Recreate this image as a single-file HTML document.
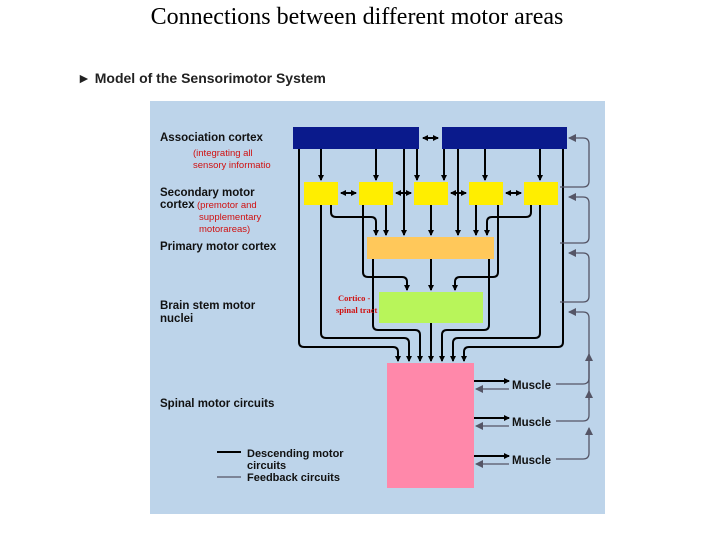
<!DOCTYPE html>
<html><head><meta charset="utf-8"><style>
body{margin:0;width:720px;height:540px;background:#fff;overflow:hidden;position:relative}
svg{position:absolute;left:0;top:0}
</style></head><body>
<svg width="720" height="540" viewBox="0 0 720 540" font-family="Liberation Sans, sans-serif">
<defs>
<marker id="a" markerWidth="6" markerHeight="6" refX="5" refY="3" orient="auto" markerUnits="userSpaceOnUse"><path d="M0,0L6,3L0,6z" fill="#000"/></marker>
<marker id="g" markerWidth="8" markerHeight="8" refX="7" refY="4" orient="auto" markerUnits="userSpaceOnUse"><path d="M0,0L8,4L0,8z" fill="#556"/></marker>
<marker id="s" markerWidth="6" markerHeight="6" refX="1" refY="3" orient="auto" markerUnits="userSpaceOnUse"><path d="M6,0L0,3L6,6z" fill="#000"/></marker>
</defs>
<text x="357" y="24" text-anchor="middle" font-family="Liberation Serif, serif" font-size="24">Connections between different motor areas</text>
<text x="77" y="83" font-size="14" font-weight="bold" fill="#222">► Model of the Sensorimotor System</text>
<rect x="150" y="101" width="455" height="413" fill="#bdd4ea"/>
<rect x="293" y="127" width="126" height="22" fill="#0a1a8c"/>
<rect x="442" y="127" width="125" height="22" fill="#0a1a8c"/>
<g fill="#ffee00"><rect x="304" y="182" width="34" height="23"/><rect x="359" y="182" width="34" height="23"/><rect x="414" y="182" width="34" height="23"/><rect x="469" y="182" width="34" height="23"/><rect x="524" y="182" width="34" height="23"/></g>
<rect x="367" y="237" width="127" height="22" fill="#ffc85a"/>
<rect x="379" y="292" width="104" height="31" fill="#b8f55a"/>
<rect x="387" y="363" width="87" height="125" fill="#ff88aa"/>
<g stroke="#000" stroke-width="2" fill="none" marker-end="url(#a)">
<path d="M321,149V180"/><path d="M376,149V180"/><path d="M417,149V180"/><path d="M404,149V235"/>
<path d="M444,149V180"/><path d="M458,149V235"/><path d="M485,149V180"/><path d="M540,149V180"/>
<path d="M331,205V212q0,5 5,5H371q5,0 5,5V235"/><path d="M386,205V235"/><path d="M431,205V235"/><path d="M476,205V235"/><path d="M531,205V212q0,5 -5,5H492q-5,0 -5,5V235"/>
<path d="M363,205V272q0,5 5,5H402q5,0 5,5V290"/><path d="M431,259V290"/><path d="M498,205V272q0,5 -5,5H460q-5,0 -5,5V290"/>
<path d="M299,149V342q0,5 5,5H393q5,0 5,5V361"/>
<path d="M321,205V333q0,5 5,5H404q5,0 5,5V361"/>
<path d="M373,259V325q0,5 5,5H415q5,0 5,5V361"/>
<path d="M431,323V361"/>
<path d="M489,259V325q0,5 -5,5H447q-5,0 -5,5V361"/>
<path d="M540,205V333q0,5 -5,5H458q-5,0 -5,5V361"/>
<path d="M563,149V342q0,5 -5,5H469q-5,0 -5,5V361"/>
<path d="M474,381H509"/><path d="M474,418H509"/><path d="M474,456H509"/>
</g>
<g stroke="#000" stroke-width="2" marker-start="url(#s)" marker-end="url(#a)">
<path d="M423,138H438"/><path d="M341,193H356"/><path d="M396,193H411"/><path d="M451,193H466"/><path d="M506,193H521"/>
</g>
<g stroke="#556" stroke-width="1.3" fill="none" marker-end="url(#g)">
<path d="M560,187H583q6,0 6,-6V144q0,-6 -6,-6H569"/>
<path d="M560,243H583q6,0 6,-6V203q0,-6 -6,-6H569"/>
<path d="M560,302H583q6,0 6,-6V259q0,-6 -6,-6H569"/>
<path d="M589,400V318q0,-6 -6,-6H569"/>
<path d="M556,384H583q6,0 6,-6V354"/>
<path d="M556,421H583q6,0 6,-6V391"/>
<path d="M556,459H583q6,0 6,-6V428"/>
<path d="M509,389H476"/><path d="M509,426H476"/><path d="M509,464H476"/>
</g>
<g font-weight="bold" font-size="11.5" fill="#111">
<text x="160" y="141">Association cortex</text>
<text x="160" y="196">Secondary motor</text><text x="160" y="208">cortex</text>
<text x="160" y="250">Primary motor cortex</text>
<text x="160" y="309">Brain stem motor</text><text x="160" y="322">nuclei</text>
<text x="160" y="407">Spinal motor circuits</text>
<text x="512" y="389">Muscle</text><text x="512" y="426">Muscle</text><text x="512" y="464">Muscle</text>
<text x="247" y="457" font-size="11">Descending motor</text><text x="247" y="469" font-size="11">circuits</text>
<text x="247" y="481" font-size="11">Feedback circuits</text>
</g>
<path d="M217,452H241" stroke="#000" stroke-width="2"/>
<path d="M217,477H241" stroke="#556" stroke-width="1.3"/>
<g fill="#d01010" font-size="9.5">
<text x="193" y="156">(integrating all</text><text x="193" y="168">sensory informatio</text>
<text x="197" y="208">(premotor and</text><text x="199" y="220">supplementary</text><text x="199" y="232">motorareas)</text>
</g>
<g fill="#d01010" font-size="8.5" font-weight="bold" font-family="Liberation Serif, serif">
<text x="338" y="301">Cortico -</text><text x="336" y="313">spinal tract</text>
</g>
</svg>
</body></html>
